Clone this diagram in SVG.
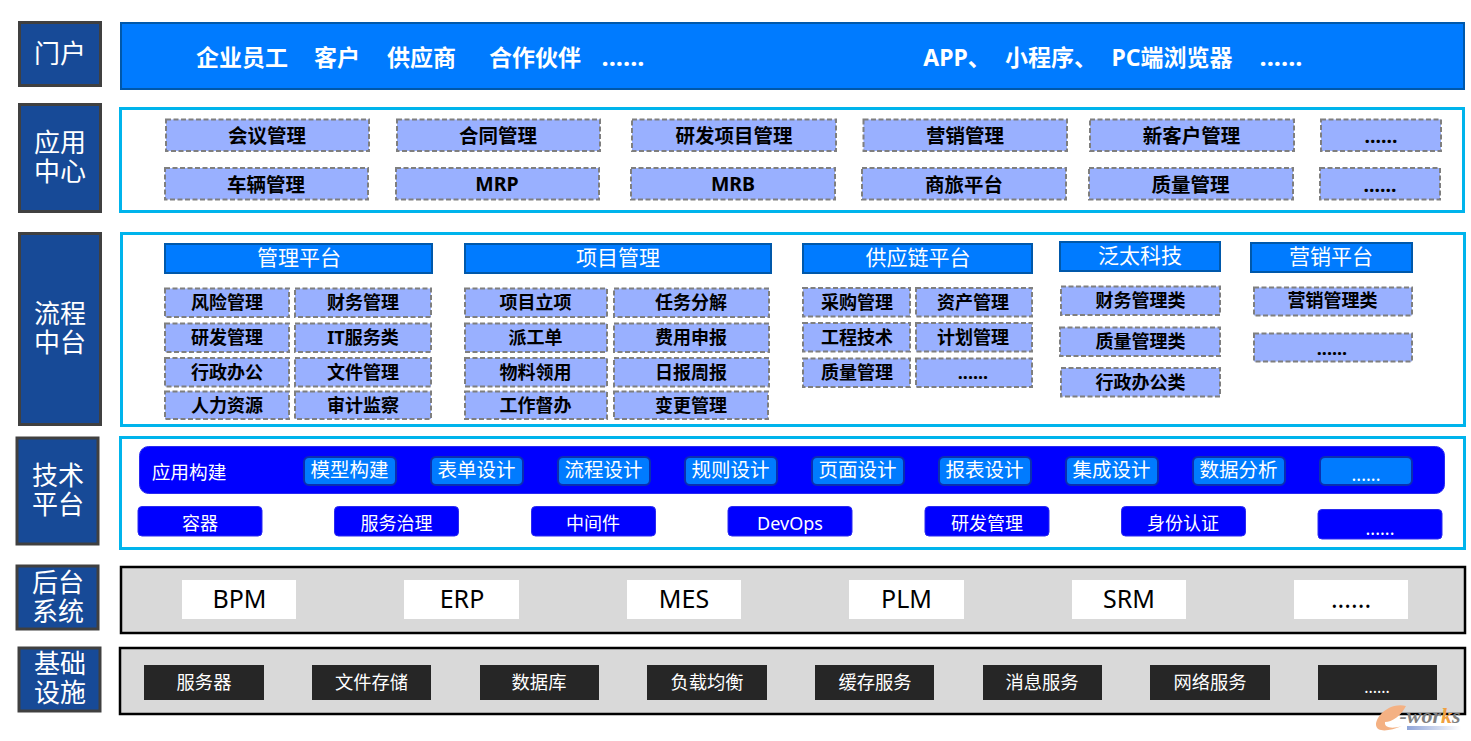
<svg xmlns="http://www.w3.org/2000/svg" width="1471" height="741" viewBox="0 0 1471 741">
<defs>
<linearGradient id="wm" x1="0" x2="1"><stop offset="0" stop-color="#8ea4d8"/><stop offset="1" stop-color="#ffffff"/></linearGradient>
</defs>
<style>
text{font-family:"Noto Sans","Noto Sans CJK SC",sans-serif;text-anchor:middle}
.side{fill:#174a97;stroke:#404040;stroke-width:3}
.sidet{fill:#fff;font-size:26px}
.top{fill:#007bff;stroke:#0058aa;stroke-width:2}
.pan{fill:#fff;stroke:#00b4ec;stroke-width:3}
.gray{fill:#d9d9d9;stroke:#000;stroke-width:2.5}
.topt{fill:#fff;font-size:23px;font-weight:700}
.dots{font-size:25.500px}
.d{fill:#99b0ff;stroke:#7f7f7f;stroke-width:2;stroke-dasharray:5 2.5}
.dt{fill:#000;font-size:19.500px;font-weight:700}
.ds{fill:#000;font-size:18px;font-weight:700}
.h{fill:#007bff;stroke:#0058aa;stroke-width:2}
.ht{fill:#fff;font-size:21px}
.bar{fill:#0000ff;stroke:#2a2af0;stroke-width:1}
.chip{fill:#007bff;stroke:#0a2fb0;stroke-width:2}
.chipt{fill:#fff;font-size:19.500px}
.blue{fill:#0000ff;stroke:#2a2af0;stroke-width:1}
.bluet{fill:#fff;font-size:18px}
.w{fill:#fff}
.wt{fill:#000;font-size:25px}
.k{fill:#262626}
.kt{fill:#fff;font-size:18.300px}
</style>
<g id="connectors"></g>

<g id="side-portal"><rect class="side" x="19.500" y="22.500" width="81" height="63"/><text class="sidet" x="60" y="63">门户</text></g>
<g id="side-app"><rect class="side" x="19.500" y="104.500" width="81" height="107"/><text class="sidet"><tspan x="60" y="152">应用</tspan><tspan x="60" y="181">中心</tspan></text></g>
<g id="side-flow"><rect class="side" x="19.500" y="233.500" width="81" height="191"/><text class="sidet"><tspan x="60" y="323">流程</tspan><tspan x="60" y="352">中台</tspan></text></g>
<g id="side-tech"><rect class="side" x="17" y="438" width="81" height="106"/><text class="sidet"><tspan x="58" y="485">技术</tspan><tspan x="58" y="514">平台</tspan></text></g>
<g id="side-backend"><rect class="side" x="17" y="566" width="81" height="63"/><text class="sidet"><tspan x="58" y="592">后台</tspan><tspan x="58" y="621">系统</tspan></text></g>
<g id="side-infra"><rect class="side" x="19" y="648" width="81" height="63"/><text class="sidet"><tspan x="60" y="673">基础</tspan><tspan x="60" y="702">设施</tspan></text></g>

<g id="panel-portal"><rect class="top" x="121" y="23" width="1343" height="66"/>
<text class="topt" x="242" y="66">企业员工</text><text class="topt" x="337" y="66">客户</text><text class="topt" x="421.500" y="66">供应商</text><text class="topt" x="535" y="66">合作伙伴</text><text class="topt dots" x="623" y="66">......</text>
<text class="topt" x="957" y="66">APP、</text><text class="topt" x="1051" y="66">小程序、</text><text class="topt" x="1172" y="66">PC端浏览器</text><text class="topt dots" x="1281" y="66">......</text></g>

<g id="panel-app"><rect class="pan" x="120.500" y="108.500" width="1343" height="103"/>
<rect class="d" x="166" y="119.500" width="203" height="31.500"/><text class="dt" x="267" y="142.500">会议管理</text>
<rect class="d" x="397" y="119.500" width="203" height="31.500"/><text class="dt" x="498" y="142.500">合同管理</text>
<rect class="d" x="632" y="119.500" width="204" height="31.500"/><text class="dt" x="734" y="142.500">研发项目管理</text>
<rect class="d" x="863.500" y="119.500" width="203.500" height="31.500"/><text class="dt" x="965" y="142.500">营销管理</text>
<rect class="d" x="1090" y="119.500" width="204" height="31.500"/><text class="dt" x="1191.500" y="142.500">新客户管理</text>
<rect class="d" x="1321" y="119.500" width="120" height="31.500"/><text class="dt" x="1381" y="142.500">......</text>
<rect class="d" x="165" y="168" width="203" height="31.500"/><text class="dt" x="266" y="191.500">车辆管理</text>
<rect class="d" x="396" y="168" width="203" height="31.500"/><text class="dt" x="497" y="190.500">MRP</text>
<rect class="d" x="631" y="168" width="204" height="31.500"/><text class="dt" x="733" y="190.500">MRB</text>
<rect class="d" x="862" y="168" width="204" height="31.500"/><text class="dt" x="964" y="191.500">商旅平台</text>
<rect class="d" x="1089" y="168" width="204" height="31.500"/><text class="dt" x="1190.500" y="191.500">质量管理</text>
<rect class="d" x="1320" y="168" width="120" height="31.500"/><text class="dt" x="1380" y="191.500">......</text></g>

<g id="panel-flow"><rect class="pan" x="121.500" y="233.500" width="1343" height="192"/>
<rect class="h" x="165" y="244" width="267" height="29"/><text class="ht" x="299" y="264.500">管理平台</text>
<rect class="h" x="465" y="244" width="306" height="29"/><text class="ht" x="618" y="264.500">项目管理</text>
<rect class="h" x="803" y="244" width="229" height="29"/><text class="ht" x="918" y="264.500">供应链平台</text>
<rect class="h" x="1060" y="242" width="160" height="29"/><text class="ht" x="1140" y="263">泛太科技</text>
<rect class="h" x="1251" y="243" width="161" height="29"/><text class="ht" x="1331" y="264">营销平台</text>

<rect class="d" x="165" y="288.500" width="124" height="28.500"/><text class="ds" x="227" y="309">风险管理</text>
<rect class="d" x="295" y="288.500" width="136" height="28.500"/><text class="ds" x="363" y="309">财务管理</text>
<rect class="d" x="165" y="323.500" width="124" height="28.500"/><text class="ds" x="227" y="344">研发管理</text>
<rect class="d" x="295" y="323.500" width="136" height="28.500"/><text class="ds" x="363" y="344">IT服务类</text>
<rect class="d" x="165" y="358" width="124" height="28.500"/><text class="ds" x="227" y="379">行政办公</text>
<rect class="d" x="295" y="358" width="136" height="28.500"/><text class="ds" x="363" y="379">文件管理</text>
<rect class="d" x="165" y="391.500" width="124" height="27.500"/><text class="ds" x="227" y="411.500">人力资源</text>
<rect class="d" x="295" y="391.500" width="136" height="27.500"/><text class="ds" x="363" y="411.500">审计监察</text>

<rect class="d" x="465" y="288.500" width="142" height="28.500"/><text class="ds" x="535.500" y="309">项目立项</text>
<rect class="d" x="614" y="288.500" width="155" height="28.500"/><text class="ds" x="691" y="309">任务分解</text>
<rect class="d" x="465" y="323.500" width="142" height="28.500"/><text class="ds" x="535.500" y="344">派工单</text>
<rect class="d" x="614" y="323.500" width="155" height="28.500"/><text class="ds" x="691" y="344">费用申报</text>
<rect class="d" x="465" y="358" width="142" height="28.500"/><text class="ds" x="535.500" y="379">物料领用</text>
<rect class="d" x="614" y="358" width="155" height="28.500"/><text class="ds" x="691" y="379">日报周报</text>
<rect class="d" x="465" y="391.500" width="142" height="27.500"/><text class="ds" x="535.500" y="411.500">工作督办</text>
<rect class="d" x="614" y="391.500" width="154" height="27.500"/><text class="ds" x="691" y="411.500">变更管理</text>

<rect class="d" x="803" y="288" width="107" height="28.500"/><text class="ds" x="857" y="309">采购管理</text>
<rect class="d" x="916" y="288" width="116" height="28.500"/><text class="ds" x="973" y="309">资产管理</text>
<rect class="d" x="803" y="323" width="107" height="28.500"/><text class="ds" x="857" y="344">工程技术</text>
<rect class="d" x="916" y="323" width="116" height="28.500"/><text class="ds" x="973" y="344">计划管理</text>
<rect class="d" x="803" y="358.500" width="107" height="28.500"/><text class="ds" x="857" y="379">质量管理</text>
<rect class="d" x="916" y="358.500" width="116" height="28.500"/><text class="ds" x="973" y="379">......</text>

<rect class="d" x="1061" y="286.500" width="159" height="28.500"/><text class="ds" x="1140.500" y="307">财务管理类</text>
<rect class="d" x="1060" y="327.500" width="160" height="28.500"/><text class="ds" x="1140.500" y="348">质量管理类</text>
<rect class="d" x="1061" y="368" width="159" height="28.500"/><text class="ds" x="1140.500" y="389">行政办公类</text>
<rect class="d" x="1254" y="287.500" width="158" height="28"/><text class="ds" x="1332.500" y="307">营销管理类</text>
<rect class="d" x="1254" y="333.500" width="158" height="28"/><text class="ds" x="1332" y="355">......</text></g>

<g id="panel-tech"><rect class="pan" x="120.500" y="437.500" width="1344" height="111"/>
<rect class="bar" x="139.500" y="446.500" width="1305" height="47" rx="9"/><text class="bluet" x="189" y="479" style="font-size:18.700px">应用构建</text>
<rect class="chip" x="304" y="457" width="92" height="28" rx="5"/><text class="chipt" x="349.500" y="477">模型构建</text>
<rect class="chip" x="431" y="457" width="92" height="28" rx="5"/><text class="chipt" x="476.500" y="477">表单设计</text>
<rect class="chip" x="558" y="457" width="92" height="28" rx="5"/><text class="chipt" x="603.500" y="477">流程设计</text>
<rect class="chip" x="685" y="457" width="92" height="28" rx="5"/><text class="chipt" x="730.500" y="477">规则设计</text>
<rect class="chip" x="812" y="457" width="92" height="28" rx="5"/><text class="chipt" x="857.500" y="477">页面设计</text>
<rect class="chip" x="939" y="457" width="92" height="28" rx="5"/><text class="chipt" x="984.500" y="477">报表设计</text>
<rect class="chip" x="1066" y="457" width="92" height="28" rx="5"/><text class="chipt" x="1111.500" y="477">集成设计</text>
<rect class="chip" x="1193" y="457" width="92" height="28" rx="5"/><text class="chipt" x="1238.500" y="477">数据分析</text>
<rect class="chip" x="1320" y="457" width="92" height="28" rx="5"/><text class="chipt" x="1366" y="481" style="font-size:18px">......</text>
<rect class="blue" x="138" y="506.500" width="124" height="29.500" rx="4"/><text class="bluet" x="200" y="530">容器</text>
<rect class="blue" x="334.500" y="506.500" width="124" height="29.500" rx="4"/><text class="bluet" x="396.500" y="530">服务治理</text>
<rect class="blue" x="531.500" y="506.500" width="124" height="29.500" rx="4"/><text class="bluet" x="593" y="530">中间件</text>
<rect class="blue" x="728" y="506.500" width="124" height="29.500" rx="4"/><text class="bluet" x="790" y="530">DevOps</text>
<rect class="blue" x="925" y="506.500" width="124" height="29.500" rx="4"/><text class="bluet" x="987" y="530">研发管理</text>
<rect class="blue" x="1121.500" y="506.500" width="124" height="29.500" rx="4"/><text class="bluet" x="1183" y="530">身份认证</text>
<rect class="blue" x="1318" y="509.500" width="124" height="29.500" rx="4"/><text class="bluet" x="1380" y="535">......</text></g>

<g id="panel-backend"><rect class="gray" x="121" y="567" width="1344" height="66"/>
<rect class="w" x="182" y="580" width="114" height="39"/><text class="wt" x="239.500" y="608">BPM</text>
<rect class="w" x="404" y="580" width="115" height="39"/><text class="wt" x="462" y="608">ERP</text>
<rect class="w" x="627" y="580" width="114" height="39"/><text class="wt" x="684" y="608">MES</text>
<rect class="w" x="849" y="580" width="115" height="39"/><text class="wt" x="906.500" y="608">PLM</text>
<rect class="w" x="1072" y="580" width="114" height="39"/><text class="wt" x="1129" y="608">SRM</text>
<rect class="w" x="1294" y="580" width="114" height="39"/><text class="wt" x="1351" y="608">......</text></g>

<g id="panel-infra"><rect class="gray" x="120" y="648" width="1345" height="66"/>
<rect class="k" x="144" y="665" width="120" height="35"/><text class="kt" x="204" y="689">服务器</text>
<rect class="k" x="312" y="665" width="119" height="35"/><text class="kt" x="371.500" y="689">文件存储</text>
<rect class="k" x="480" y="665" width="119" height="35"/><text class="kt" x="539" y="689">数据库</text>
<rect class="k" x="647" y="665" width="120" height="35"/><text class="kt" x="707" y="689">负载均衡</text>
<rect class="k" x="815" y="665" width="119" height="35"/><text class="kt" x="875" y="689">缓存服务</text>
<rect class="k" x="983" y="665" width="119" height="35"/><text class="kt" x="1042" y="689">消息服务</text>
<rect class="k" x="1150" y="665" width="120" height="35"/><text class="kt" x="1210" y="689">网络服务</text>
<rect class="k" x="1318" y="665" width="119" height="35"/><text class="kt" x="1377" y="693" style="font-size:16px">......</text></g>

<g id="watermark">
<path d="M1406 706 C1391 702 1376 715 1376 725 C1377 733 1390 731 1402 726 C1392 729 1384 728 1385 722 C1392 722 1401 716 1406 706Z" fill="#f4b183"/>
<text x="1430" y="723" style="font-family:'Liberation Serif',serif;font-size:22px;font-weight:700;font-style:italic;fill:#7f7f7f">-wor<tspan fill="#f0a040">k</tspan>s</text>
<rect x="1407" y="726" width="54" height="4" fill="url(#wm)"/>
</g>
</svg>
